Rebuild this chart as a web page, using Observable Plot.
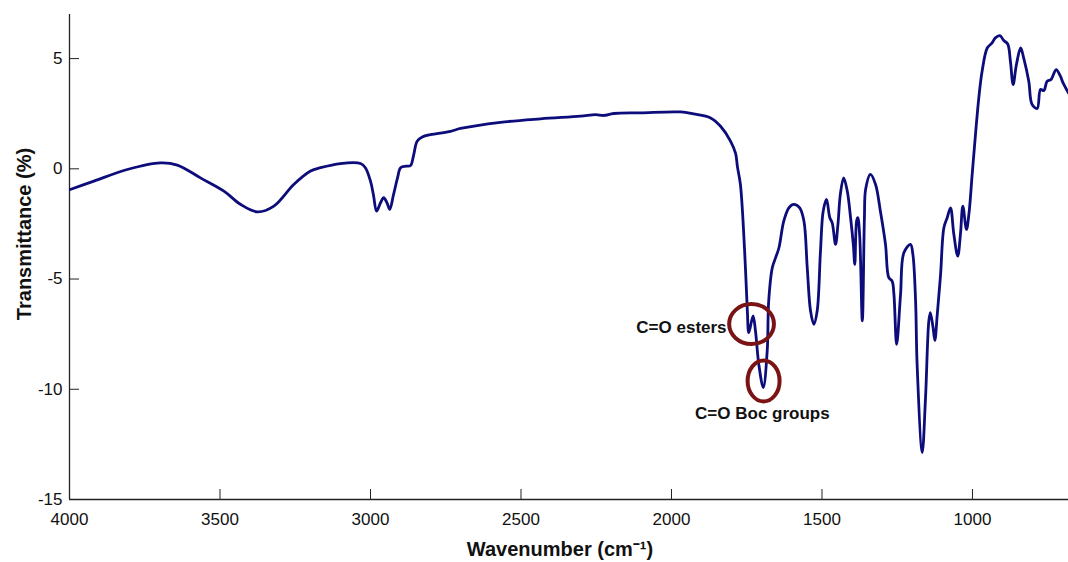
<!DOCTYPE html>
<html>
<head>
<meta charset="utf-8">
<script src="https://cdn.jsdelivr.net/npm/d3@7"></script>
<script src="https://cdn.jsdelivr.net/npm/@observablehq/plot@0.6"></script>
<style>
  html, body { margin: 0; padding: 0; background: #fff; }
  #chart svg { display: block; }
</style>
</head>
<body>
<div id="chart"></div>
<script>
// ---- data ----
const wavenumber = [
  4000, 3919, 3808, 3698, 3642, 3565, 3487, 3432, 3376, 3321, 3255, 3199, 3166, 3100, 3033, 3017,
  3000, 2990, 2980, 2967, 2956, 2945, 2936, 2924, 2910, 2900, 2881, 2867, 2857, 2845, 2828, 2801,
  2734, 2701, 2568, 2435, 2302, 2252, 2225, 2192, 2103, 1970, 1927, 1870, 1837, 1804, 1787, 1781,
  1771, 1757, 1748, 1743, 1729, 1721, 1710, 1695, 1682, 1677, 1665, 1654, 1643, 1627, 1610, 1594,
  1574, 1560, 1549, 1538, 1527, 1516, 1505, 1496, 1485, 1474, 1466, 1455, 1447, 1439, 1428, 1416,
  1405, 1396, 1391, 1385, 1381, 1375, 1366, 1359, 1355, 1339, 1322, 1306, 1289, 1278, 1267, 1261,
  1252, 1239, 1228, 1206, 1198, 1189, 1184, 1167, 1156, 1145, 1140, 1131, 1125, 1117, 1106, 1095,
  1084, 1073, 1062, 1049, 1040, 1032, 1020, 1012, 1001, 990, 979, 968, 951, 935, 924, 909,
  896, 883, 874, 865, 854, 840, 830, 813, 802, 785, 774, 763, 752, 739, 722, 708, 699, 681
];
const transmittance = [
  -0.95, -0.56, -0.03, 0.27, 0.17, -0.41, -1.01, -1.61, -1.95, -1.69, -0.71, -0.10, 0.05, 0.24, 0.24, 0.05,
  -0.56, -1.20, -1.92, -1.55, -1.31, -1.55, -1.84, -1.20, -0.40, 0.05, 0.12, 0.15, 0.60, 1.25, 1.44, 1.55,
  1.70, 1.83, 2.11, 2.27, 2.39, 2.46, 2.42, 2.51, 2.54, 2.58, 2.49, 2.31, 1.93, 1.26, 0.70, 0.10,
  -0.71, -3.73, -6.45, -7.43, -6.67, -7.35, -8.86, -9.92, -8.26, -5.99, -4.48, -4.03, -3.58, -2.37, -1.77, -1.61,
  -1.77, -2.37, -4.48, -6.45, -7.05, -6.45, -3.73, -1.92, -1.39, -2.22, -2.45, -3.43, -2.52, -1.16, -0.41, -1.01,
  -2.22, -3.43, -4.33, -2.37, -2.22, -2.97, -6.90, -2.22, -0.93, -0.25, -0.71, -1.92, -3.43, -4.94, -5.09, -5.69,
  -7.96, -5.70, -3.81, -3.43, -3.88, -6.00, -8.86, -12.87, -10.38, -6.90, -6.52, -7.20, -7.78, -6.60, -4.79, -2.67,
  -2.22, -1.77, -2.97, -3.96, -2.97, -1.69, -2.75, -2.07, -0.25, 1.56, 3.22, 4.43, 5.48, 5.71, 5.94, 6.04,
  5.82, 5.66, 4.88, 3.82, 4.73, 5.48, 5.03, 3.97, 2.92, 2.74, 3.60, 3.55, 3.97, 4.05, 4.50, 4.20, 3.90, 3.44
];
const xTicks = [4000, 3500, 3000, 2500, 2000, 1500, 1000];
const yTicks = [5, 0, -5, -10, -15];
const xDomain = [4000, 681];
const yDomain = [-15, 7];
const xTitle = "Wavenumber (cm\u207B\u00B9)";
const yTitle = "Transmittance (%)";
const noteLabels = ["C=O esters", "C=O Boc groups"];
const noteTextX = [1817, 1698];
const noteTextY = [-7.22, -11.11];
const noteCircleX = [1734, 1694];
const noteCircleY = [-7.04, -9.62];

// ---- build tables ----
const spectrum = wavenumber.map((w, i) => ({w, t: transmittance[i]}));
const notes = noteLabels.map((label, i) => ({label, x: noteTextX[i], y: noteTextY[i], cx: noteCircleX[i], cy: noteCircleY[i]}));

function ellipseSymbol(ax, ay) {
  const k = 0.5522847498;
  return {
    draw(ctx, size) {
      const r = Math.sqrt(size / Math.PI);
      const rx = r * ax, ry = r * ay;
      ctx.moveTo(rx, 0);
      ctx.bezierCurveTo(rx, k * ry, k * rx, ry, 0, ry);
      ctx.bezierCurveTo(-k * rx, ry, -rx, k * ry, -rx, 0);
      ctx.bezierCurveTo(-rx, -k * ry, -k * rx, -ry, 0, -ry);
      ctx.bezierCurveTo(k * rx, -ry, rx, -k * ry, rx, 0);
      ctx.closePath();
    }
  };
}

const font = "'Liberation Sans', Arial, Helvetica, sans-serif";

const chart = Plot.plot({
  width: 1068,
  height: 562,
  marginLeft: 69,
  marginRight: 0,
  marginTop: 14,
  marginBottom: 63,
  style: {fontFamily: font, fontSize: "17px", color: "#111", background: "#fff"},
  x: {type: "linear", domain: xDomain},
  y: {type: "linear", domain: yDomain},
  marks: [
    Plot.axisX(xTicks, {anchor: "bottom", tickSize: -10, tickPadding: 23, tickFormat: d => String(d), label: null, stroke: "#222", fill: "#111"}),
    Plot.axisY(yTicks, {anchor: "left", tickSize: -10, tickPadding: 17, tickFormat: d => String(d), label: null, stroke: "#222", fill: "#111"}),
    Plot.ruleX([xDomain[0]], {stroke: "#222", strokeWidth: 1.3}),
    Plot.ruleY([yDomain[0]], {stroke: "#222", strokeWidth: 1.3}),
    Plot.line(spectrum, {x: "w", y: "t", stroke: "#0c0c7a", strokeWidth: 2.8, curve: "catmull-rom", clip: true}),
    Plot.dot([notes[0]], {x: "cx", y: "cy", r: 20, symbol: ellipseSymbol(1.12, 1), stroke: "#7a1414", strokeWidth: 4, fill: "none"}),
    Plot.dot([notes[1]], {x: "cx", y: "cy", r: 20.5, symbol: ellipseSymbol(0.78, 1), stroke: "#7a1414", strokeWidth: 4, fill: "none"}),
    Plot.text([notes[0]], {x: "x", y: "y", text: "label", textAnchor: "end", fontWeight: "bold", fontSize: 17, fill: "#111"}),
    Plot.text([notes[1]], {x: "x", y: "y", text: "label", textAnchor: "middle", fontWeight: "bold", fontSize: 17, fill: "#111"}),
    Plot.text([xTitle], {frameAnchor: "bottom", text: d => d, textAnchor: "middle", dx: -9, dy: 56, fontWeight: "bold", fontSize: 20, fill: "#111"}),
    Plot.text([yTitle], {frameAnchor: "left", text: d => d, rotate: -90, textAnchor: "middle", dx: -45, dy: -23, fontWeight: "bold", fontSize: 20, fill: "#111"})
  ]
});
document.getElementById("chart").appendChild(chart);
</script>
</body>
</html>
